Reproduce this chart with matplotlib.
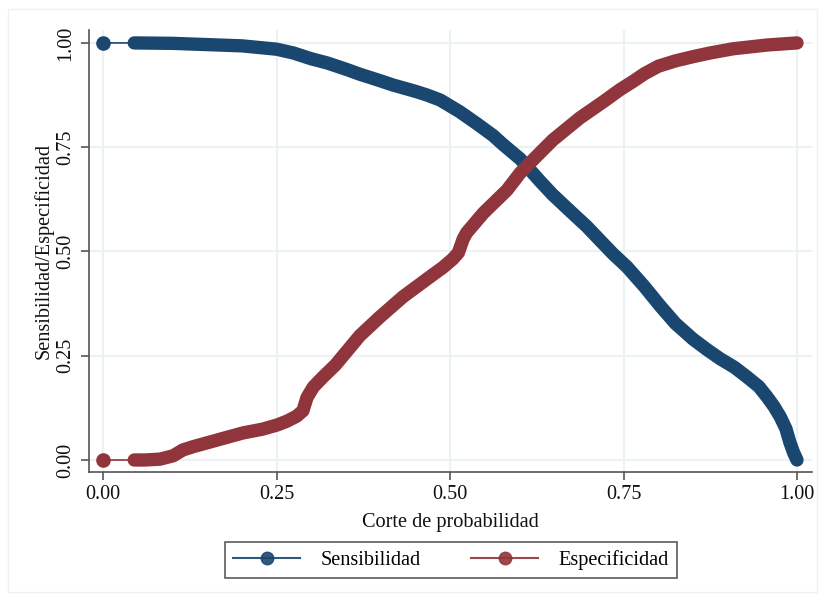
import matplotlib
matplotlib.use("Agg")
import matplotlib.pyplot as plt
from matplotlib.lines import Line2D
from matplotlib.patches import Rectangle

plt.rcParams['font.family'] = ['Liberation Serif', 'DejaVu Serif']

# Sensitivity curve (cutoff, value)
sens_cut = [0, 0.045, 0.10, 0.15, 0.20, 0.25, 0.274, 0.30, 0.323, 0.35, 0.37, 0.40,
            0.418, 0.45, 0.467, 0.486, 0.514, 0.539, 0.562, 0.576, 0.601, 0.630,
            0.648, 0.673, 0.697, 0.720, 0.735, 0.755, 0.78, 0.803, 0.825, 0.850,
            0.870, 0.889, 0.91, 0.928, 0.945, 0.957, 0.967, 0.976, 0.984, 0.990,
            0.995, 1.0]
sens_val = [1.0, 1.0, 0.999, 0.996, 0.993, 0.985, 0.976, 0.962, 0.952, 0.937, 0.925,
            0.909, 0.899, 0.884, 0.875, 0.863, 0.835, 0.806, 0.778, 0.757, 0.722,
            0.668, 0.636, 0.597, 0.560, 0.520, 0.494, 0.463, 0.416, 0.369, 0.327,
            0.290, 0.265, 0.243, 0.222, 0.199, 0.176, 0.151, 0.128, 0.103, 0.075,
            0.041, 0.018, 0.0]

# Specificity curve (cutoff, value)
spec_cut = [0, 0.045, 0.06, 0.082, 0.101, 0.115, 0.13, 0.154, 0.18, 0.202, 0.23,
            0.251, 0.265, 0.279, 0.288, 0.294, 0.303, 0.317, 0.335, 0.352, 0.370,
            0.399, 0.432, 0.471, 0.490, 0.504, 0.512, 0.519, 0.524, 0.548, 0.582,
            0.601, 0.615, 0.648, 0.687, 0.720, 0.745, 0.764, 0.78, 0.80, 0.825,
            0.85, 0.875, 0.908, 0.957, 1.0]
spec_val = [0.0, 0.0, 0.0, 0.002, 0.010, 0.024, 0.032, 0.043, 0.055, 0.065, 0.074,
            0.084, 0.093, 0.105, 0.118, 0.150, 0.175, 0.199, 0.228, 0.262, 0.298,
            0.343, 0.391, 0.439, 0.462, 0.482, 0.497, 0.530, 0.545, 0.592, 0.647,
            0.688, 0.712, 0.767, 0.820, 0.858, 0.888, 0.908, 0.926, 0.944, 0.957,
            0.967, 0.976, 0.986, 0.995, 1.0]

ticks = [0.0, 0.25, 0.5, 0.75, 1.0]
tick_labels = ["0.00", "0.25", "0.50", "0.75", "1.00"]
series_names = ["Sensibilidad", "Especificidad"]

BLUE = "#1a476f"
RED = "#90353b"
FS = 14.6

fig = plt.figure(figsize=(8.25, 6.0), dpi=100)
fig.patch.set_facecolor("white")
fig.add_artist(Rectangle((8/825, 8/600), 809/825, 583/600, transform=fig.transFigure,
                         fill=False, edgecolor="#f0f0f0", lw=1.0))

ax = fig.add_axes([89/825, 1 - 472/600, (812 - 89)/825, (472 - 30)/600])
ax.set_xlim(-0.0202, 1.0216)
ax.set_ylim(-0.0288, 1.031)

ax.grid(True, color="#eaf2f3", lw=1.5)
ax.set_axisbelow(True)

for cut, val, col in [(sens_cut, sens_val, BLUE), (spec_cut, spec_val, RED)]:
    ax.plot(cut, val, color=col, lw=1.2, zorder=2)
    ax.plot(cut[:1], val[:1], 'o', color=col, ms=9.5, zorder=3)
    ax.plot(cut[1:], val[1:], color=col, lw=9.6, solid_capstyle='round',
            solid_joinstyle='round', zorder=3)

for s in ["top", "right"]:
    ax.spines[s].set_visible(False)
for s in ["left", "bottom"]:
    ax.spines[s].set_color("#555555")
    ax.spines[s].set_linewidth(1.2)

ax.set_xticks(ticks)
ax.set_xticklabels(tick_labels, fontsize=FS)
ax.set_yticks(ticks)
ax.set_yticklabels(tick_labels, fontsize=FS, rotation=90, va="center")
ax.tick_params(axis="both", direction="out", length=6, width=1.2, color="#555555",
               labelcolor="#111111")
ax.tick_params(axis="y", pad=4)

ax.set_xlabel("Corte de probabilidad", fontsize=FS, labelpad=6, color="#111111")
ax.set_ylabel("Sensibilidad/Especificidad", fontsize=FS, labelpad=2, color="#111111")

handles = [Line2D([], [], color=BLUE, lw=1.5, marker='o', ms=9, alpha=0.9),
           Line2D([], [], color=RED, lw=1.5, marker='o', ms=9, alpha=0.9)]
leg = fig.legend(handles, series_names, loc="center", bbox_to_anchor=(451/825, 1 - 560/600),
                 ncol=2, fontsize=FS, frameon=True, fancybox=False, handlelength=3.3,
                 columnspacing=2.5, handletextpad=1.0, borderpad=0.4)
leg.get_frame().set_edgecolor("#333333")
leg.get_frame().set_linewidth(1.2)

fig.savefig("out.png", dpi=100)
